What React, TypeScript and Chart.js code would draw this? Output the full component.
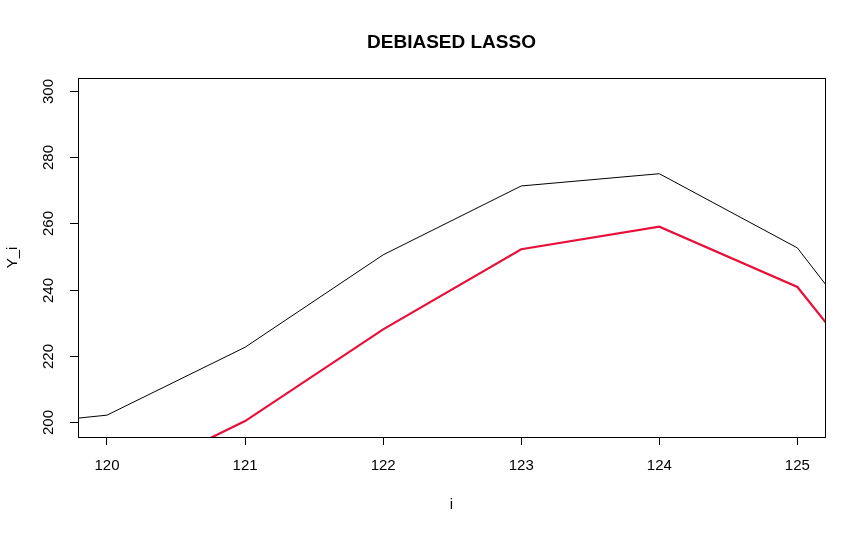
import React, { useEffect, useRef } from "react";
import { Chart, registerables } from "chart.js";

Chart.register(...registerables);

const xValues = [119, 120, 121, 122, 123, 124, 125, 126];
const blackSeries = [197.8, 202.1, 222.6, 250.5, 271.3, 275.0, 252.6, 198.6];
const redSeries = [160.0, 180.0, 200.3, 228.0, 252.2, 259.0, 240.8, 188.8];
const xTicks = [120, 121, 122, 123, 124, 125];
const yTicks = [200, 220, 240, 260, 280, 300];
const titleText = "DEBIASED LASSO";
const xLabel = "i";
const yLabel = "Y_i";

const FONT = "'Liberation Sans', Arial, sans-serif";

export default function App() {
  const ref = useRef<HTMLCanvasElement | null>(null);

  useEffect(() => {
    document.body.style.margin = "0";
    const canvas = ref.current;
    if (!canvas) return;

    const rPlot = {
      id: "rPlot",
      afterDraw(chart: any) {
        const { ctx, chartArea } = chart;
        const yScale = chart.scales.y;
        ctx.save();
        ctx.strokeStyle = "#000";
        ctx.lineWidth = 1;
        ctx.strokeRect(
          Math.round(chartArea.left) + 0.5,
          Math.round(chartArea.top) + 0.5,
          Math.round(chartArea.right - chartArea.left),
          Math.round(chartArea.bottom - chartArea.top)
        );
        ctx.fillStyle = "#000";
        ctx.font = `15px ${FONT}`;
        ctx.textAlign = "center";
        ctx.textBaseline = "middle";
        yTicks.forEach((v) => {
          const y = Math.round(yScale.getPixelForValue(v)) + 0.5;
          ctx.beginPath();
          ctx.moveTo(chartArea.left, y);
          ctx.lineTo(chartArea.left - 8, y);
          ctx.stroke();
          ctx.save();
          ctx.translate(49, y);
          ctx.rotate(-Math.PI / 2);
          ctx.fillText(String(v), 0, 0);
          ctx.restore();
        });
        const cx = (chartArea.left + chartArea.right) / 2;
        ctx.font = `bold 19px ${FONT}`;
        ctx.textBaseline = "alphabetic";
        ctx.fillText(titleText, cx, 48);
        ctx.font = `15px ${FONT}`;
        ctx.textBaseline = "middle";
        ctx.fillText(xLabel, cx, 505);
        ctx.save();
        ctx.translate(13, (chartArea.top + chartArea.bottom) / 2);
        ctx.rotate(-Math.PI / 2);
        ctx.fillText(yLabel, 0, 0);
        ctx.restore();
        ctx.restore();
      },
    };

    const chart = new Chart(canvas, {
      type: "line",
      data: {
        datasets: [
          {
            label: "black",
            data: xValues.map((x, i) => ({ x, y: blackSeries[i] })),
            borderColor: "#000000",
            borderWidth: 1,
            pointRadius: 0,
            tension: 0,
            clip: 0,
          },
          {
            label: "red",
            data: xValues.map((x, i) => ({ x, y: redSeries[i] })),
            borderColor: "#e8103a",
            borderWidth: 2.2,
            pointRadius: 0,
            tension: 0,
            clip: 0,
          },
        ],
      },
      options: {
        animation: false,
        responsive: false,
        maintainAspectRatio: false,
        layout: { padding: { left: 0, right: 41, top: 78, bottom: 0 } },
        plugins: {
          legend: { display: false },
          title: { display: false },
          tooltip: { enabled: false },
        },
        scales: {
          x: {
            type: "linear",
            min: 119.79,
            max: 125.2,
            afterBuildTicks: (scale: any) => {
              scale.ticks = xTicks.map((v) => ({ value: v }));
            },
            afterFit: (scale: any) => {
              scale.height = 97;
            },
            grid: {
              drawOnChartArea: false,
              drawTicks: true,
              tickLength: 8,
              color: "#000",
            },
            border: { display: false },
            ticks: {
              color: "#000",
              font: { family: FONT, size: 15 },
              padding: 12,
              maxRotation: 0,
              minRotation: 0,
              callback: (v: any) => String(v),
            },
          },
          y: {
            type: "linear",
            min: 195.5,
            max: 303.9,
            afterBuildTicks: (scale: any) => {
              scale.ticks = yTicks.map((v) => ({ value: v }));
            },
            afterFit: (scale: any) => {
              scale.width = 78;
            },
            grid: { display: false },
            border: { display: false },
            ticks: { display: false },
          },
        },
      },
      plugins: [rPlot],
    });

    return () => chart.destroy();
  }, []);

  return (
    <div style={{ width: 866, height: 534, background: "#fff" }}>
      <canvas ref={ref} width={866} height={534} style={{ display: "block" }} />
    </div>
  );
}
